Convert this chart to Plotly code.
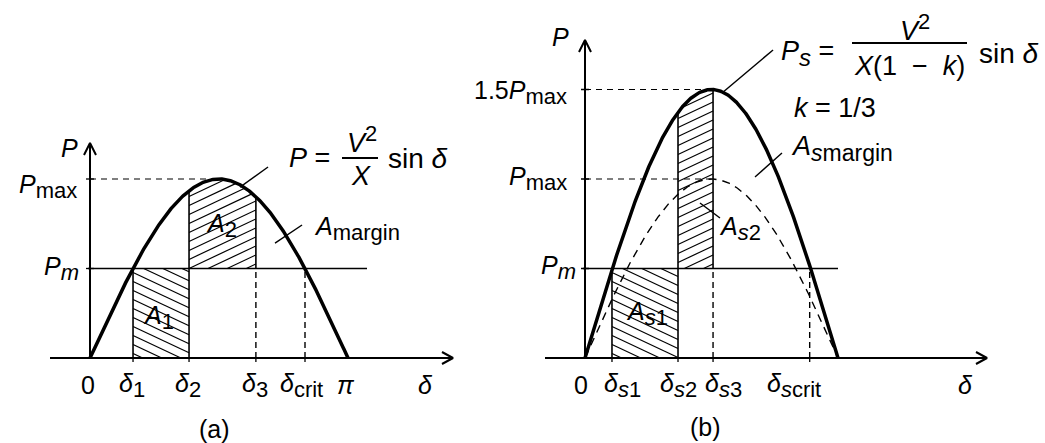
import numpy as np
import plotly.graph_objects as go

# ---------------- data ----------------
P_MAX = 1.0          # peak of the unloaded curve
P_M = 0.5            # mechanical power level
K = 1 / 3            # compensation degree
GAIN_B = 1 / (1 - K) # 1.5 * P_max peak in panel (b)

delta_a_labels = ["0", "δ1", "δ2", "δ3", "δcrit", "π"]
delta_a = [0.0, 0.524, 1.206, 2.02, 2.618, np.pi]

delta_b_labels = ["0", "δs1", "δs2", "δs3", "δscrit"]
delta_b = [0.0, 0.335, 1.155, 1.59, 2.79]

# leader lines (start / end in data units)
leaders_a = [((1.827, 0.955), (2.168, 1.067)), ((2.253, 0.642), (2.582, 0.743))]
leaders_b = [((1.701, 1.480), (2.335, 1.721)), ((2.111, 1.011), (2.446, 1.145)),
             ((1.428, 0.866), (1.676, 0.782))]

# ---------------- layout geometry ----------------
W, H = 1045, 443
FONT = "Liberation Sans, Arial, Helvetica, sans-serif"
FS = 25
FS_F = 27
X0A, SXA = 90.0, 258 / np.pi    # panel a: pixel of delta=0, pixels per rad
X0B, SXB = 585.0, 253 / np.pi   # panel b
Y0, SY = 358.0, 179.0           # pixel of P=0, pixels per unit

xr_a = [(0 - X0A) / SXA, (W / 2 - X0A) / SXA]
xr_b = [(W / 2 - X0B) / SXB, (W - X0B) / SXB]
yr = [(Y0 - H) / SY, Y0 / SY]

fig = go.Figure()


def add_line(xax, xs, ys, width=1.5, dash="solid"):
    fig.add_trace(go.Scatter(x=xs, y=ys, xaxis=xax, yaxis="y", mode="lines",
                             line=dict(color="black", width=width, dash=dash),
                             hoverinfo="skip", showlegend=False))


def hatch(xax, sx, d0, d1, lo_fn, hi_fn, sign):
    slope = sign * 0.47 * sx / SY
    spacing = 9.0 / SY
    d = np.linspace(d0, d1, 1500)
    lo, hi = lo_fn(d), hi_fn(d)
    cmin = np.min(lo - slope * d)
    cmax = np.max(hi - slope * d)
    xs, ys = [], []
    for c in np.arange(cmin + spacing * 0.5, cmax, spacing):
        p = slope * d + c
        m = (p >= lo) & (p <= hi)
        idx = np.where(m)[0]
        if len(idx) < 2:
            continue
        xs += [d[idx[0]], d[idx[-1]], None]
        ys += [p[idx[0]], p[idx[-1]], None]
    add_line(xax, xs, ys, width=1.2)


def axes(xax, sx, x_lo, x_hi, y_hi):
    add_line(xax, [x_lo, x_hi], [0, 0], width=2)
    add_line(xax, [0, 0], [0, y_hi], width=2)
    add_line(xax, [x_hi - 11 / sx, x_hi, x_hi - 11 / sx], [6 / SY, 0, -6 / SY], width=2)
    add_line(xax, [-6 / sx, 0, 6 / sx], [y_hi - 12 / SY, y_hi, y_hi - 12 / SY], width=2)


def yticks(xax, sx, levels):
    xs, ys = [], []
    for lv in levels:
        xs += [-4 / sx, 4 / sx, None]
        ys += [lv, lv, None]
    add_line(xax, xs, ys, width=1.3)


def xticks(xax, positions):
    xs, ys = [], []
    for p in positions:
        xs += [p, p, None]
        ys += [0, -4 / SY, None]
    add_line(xax, xs, ys, width=1.3)


# ---------------- panel (a) ----------------
d1, d2, d3, dcrit = delta_a[1], delta_a[2], delta_a[3], delta_a[4]
curve_a = lambda d: P_MAX * np.sin(d)
hatch("x", SXA, d1, d2, lambda d: 0 * d, lambda d: 0 * d + P_M, -1)
hatch("x", SXA, d2, d3, lambda d: 0 * d + P_M, curve_a, +1)
axes("x", SXA, (50 - X0A) / SXA, (453 - X0A) / SXA, (Y0 - 143) / SY)
yticks("x", SXA, [P_MAX, P_M])
xticks("x", delta_a[1:5])
add_line("x", [0, np.pi / 2], [P_MAX, P_MAX], width=1.2, dash="6px,5px")
add_line("x", [-2 / SXA, (367 - X0A) / SXA], [P_M, P_M], width=1.6)
add_line("x", [d1, d1], [0, P_M], width=1.6)
add_line("x", [d2, d2], [0, curve_a(d2)], width=1.6)
add_line("x", [d3, d3], [P_M, curve_a(d3)], width=1.6)
add_line("x", [d3, d3], [0, P_M], width=1.4, dash="6px,4px")
add_line("x", [dcrit, dcrit], [0, P_M], width=1.4, dash="6px,4px")
da = np.linspace(0, np.pi, 400)
add_line("x", da, curve_a(da), width=3.5)
for (s, e) in leaders_a:
    add_line("x", [s[0], e[0]], [s[1], e[1]], width=1.4)

# ---------------- panel (b) ----------------
s1, s2, s3, scrit = delta_b[1], delta_b[2], delta_b[3], delta_b[4]
curve_b = lambda d: GAIN_B * P_MAX * np.sin(d)
hatch("x2", SXB, s1, s2, lambda d: 0 * d, lambda d: 0 * d + P_M, -1)
hatch("x2", SXB, s2, s3, lambda d: 0 * d + P_M, curve_b, +1)
axes("x2", SXB, (545 - X0B) / SXB, (987 - X0B) / SXB, (Y0 - 40) / SY)
yticks("x2", SXB, [GAIN_B * P_MAX, P_MAX, P_M])
xticks("x2", delta_b[1:5])
add_line("x2", [0, np.pi / 2], [GAIN_B * P_MAX] * 2, width=1.2, dash="6px,5px")
add_line("x2", [0, np.pi / 2], [P_MAX] * 2, width=1.2, dash="6px,5px")
add_line("x2", [-2 / SXB, (838 - X0B) / SXB], [P_M, P_M], width=1.6)
add_line("x2", [s1, s1], [0, P_M], width=1.6)
add_line("x2", [s2, s2], [0, curve_b(s2)], width=1.6)
add_line("x2", [s3, s3], [P_M, curve_b(s3)], width=1.6)
add_line("x2", [s3, s3], [0, P_M], width=1.4, dash="6px,4px")
add_line("x2", [scrit, scrit], [0, P_M], width=1.4, dash="6px,4px")
db = np.linspace(0, np.pi, 400)
add_line("x2", db, P_MAX * np.sin(db), width=1.4, dash="8px,6px")
add_line("x2", db, curve_b(db), width=3.5)
for (s, e) in leaders_b:
    add_line("x2", [s[0], e[0]], [s[1], e[1]], width=1.4)


# ---------------- text ----------------
def sub(t, size=22):
    return f"<sub><span style='font-size:{size}px'>{t}</span></sub>"


def sup(t, size=21):
    return f"<sup><span style='font-size:{size}px'>{t}</span></sup>"


def it(t):
    return f"<i>{t}</i>"


def txt_label(t):
    # turn names like "δs1" / "δcrit" into rich text
    if t in ("0",):
        return t
    if t == "π":
        return it("π")
    rest = t[1:]
    if rest.startswith("s"):
        return it("δ") + sub(it("s") + rest[1:])
    return it("δ") + sub(rest)


annots = []


def free(text, xp, yp, xanchor="left", size=FS):
    annots.append(dict(text=text, x=xp / W, y=1 - yp / H, xref="paper", yref="paper",
                       xanchor=xanchor, yanchor="middle", showarrow=False,
                       font=dict(family=FONT, size=size, color="black")))


def tick_label(xax, x0, sx, val, text, left_px, center=False):
    annots.append(dict(text=text, x=val, y=0, xref=xax, yref="y",
                       xanchor="center" if center else "left", yanchor="middle",
                       xshift=left_px - (x0 + val * sx), yshift=-(385 - Y0),
                       showarrow=False, font=dict(family=FONT, size=FS, color="black")))


# panel a tick labels
lefts_a = [88, 117, 173, 240, 278, 346]
for v, n, lp in zip(delta_a, delta_a_labels, lefts_a):
    tick_label("x", X0A, SXA, v, txt_label(n), lp, center=n in ("0", "π"))
lefts_b = [581, 602, 658, 703, 765]
for v, n, lp in zip(delta_b, delta_b_labels, lefts_b):
    tick_label("x2", X0B, SXB, v, txt_label(n), lp, center=n == "0")

# panel a free text
free(it("P"), 69, 148, "center")
free(it("P") + sub("max"), 79, 187, "right")
free(it("P") + sub(it("m")), 81, 268, "right")
free(it("P") + " =", 287, 158, size=FS_F)
free(it("V") + sup("2", 22), 362, 140, "center", size=FS_F)
free(it("X"), 361, 176, "center", size=FS_F)
free("sin " + it("δ"), 386, 158, size=FS_F + 1)
free(it("A") + sub("2"), 204, 226)
free(it("A") + sub("1"), 141, 317)
free(it("A") + sub("margin"), 312, 228)
free("(a)", 214, 429, "center")
free(it("δ"), 425, 385, "center")

# panel b free text
free(it("P"), 560, 37, "center")
free("1.5" + it("P") + sub("max"), 569, 92, "right")
free(it("P") + sub("max"), 569, 178, "right")
free(it("P") + sub(it("m")), 578, 267, "right")
free(it("P") + sub(it("s"), 24) + " =", 779, 54, size=FS_F)
free(it("V") + sup("2", 22), 915, 28, "center", size=FS_F)
free(it("X") + "(1&nbsp;&nbsp;−&nbsp;&nbsp;" + it("k") + ")", 909, 66, "center", size=FS_F)
free("sin " + it("δ"), 977, 53, size=FS_F + 1)
free(it("k") + " = 1/3", 792, 108, size=FS_F)
free(it("A") + sub(it("s") + "margin", 23), 789, 148, size=FS_F)
free(it("A") + sub(it("s") + "2"), 717, 228)
free(it("A") + sub(it("s") + "1"), 624, 313)
free("(b)", 705, 427, "center")
free(it("δ"), 965, 385, "center")

# fraction bars
shapes = [
    dict(type="line", xref="paper", yref="paper", x0=342 / W, x1=378 / W,
         y0=1 - 158 / H, y1=1 - 158 / H, line=dict(color="black", width=2)),
    dict(type="line", xref="paper", yref="paper", x0=852 / W, x1=967 / W,
         y0=1 - 43 / H, y1=1 - 43 / H, line=dict(color="black", width=2)),
]

fig.update_layout(
    width=W, height=H, margin=dict(l=0, r=0, t=0, b=0),
    paper_bgcolor="white", plot_bgcolor="white", showlegend=False,
    xaxis=dict(domain=[0, 0.5], range=xr_a, visible=False, fixedrange=True),
    xaxis2=dict(domain=[0.5, 1], range=xr_b, visible=False, anchor="y", fixedrange=True),
    yaxis=dict(domain=[0, 1], range=yr, visible=False, fixedrange=True),
    annotations=annots, shapes=shapes,
)

fig.write_html("out.html", post_script="document.body.style.margin='0';",
               config={"displayModeBar": False, "staticPlot": True})
